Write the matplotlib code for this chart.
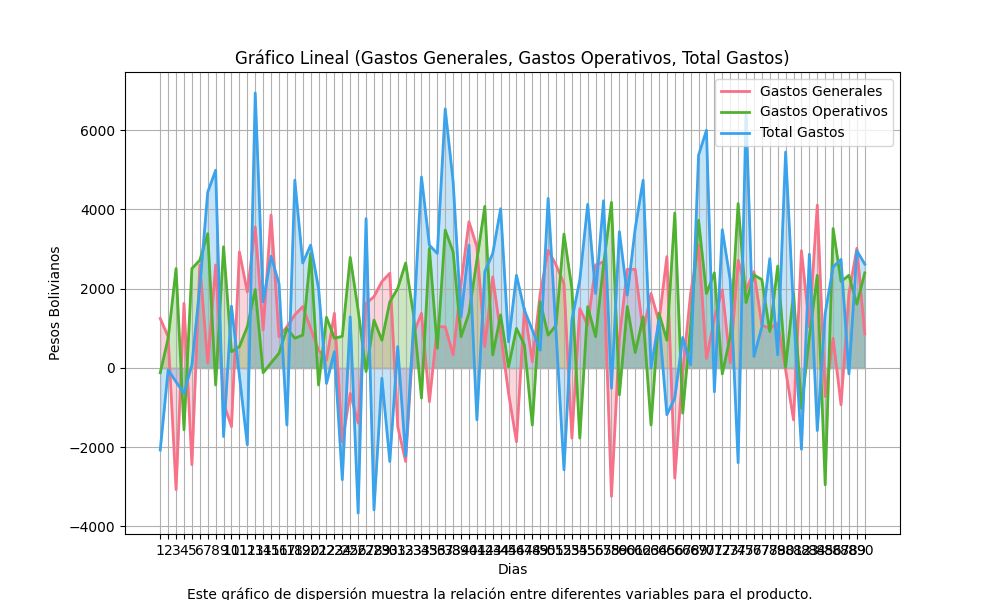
import matplotlib
matplotlib.use("Agg")
import matplotlib.pyplot as plt
import numpy as np

dias = list(range(1, 91))
gastos_generales = [1250, 790, -3070, 1630, -2440, 2600, 120, 2600, -890, -1480,
                    2930, 1920, 3560, 960, 3860, 790, 1040, 1340, 1550, 1000,
                    450, 200, 1380, -1860, -640, -1390, 1630, 1800, 2180, 2390,
                    -1480, -2360, 870, 1380, -850, 1040, 1040, 330, 2130, 3690,
                    3060, 540, 2300, 870, -640, -1860, 1500, 160, 1880, 2970,
                    2600, 2130, -1770, 1500, 1080, 2600, 2680, -3240, 750, 2490,
                    2490, 920, 1880, 1170, 2810, -2780, -90, 1880, 3100, 240,
                    1250, 1970, 130, 2720, 1970, 2430, 1080, 1000, 1130, -50,
                    -1310, 2960, 1040, 4110, -720, 750, -930, 1880, 3020, 860]
gastos_operativos = [-120, 750, 2510, -1560, 2510, 2720, 3390, -430, 3060, 410,
                     540, 1040, 1980, -120, 130, 370, 1000, 750, 830, 2890,
                     -430, 1280, 750, 800, 2790, 1460, -90, 1210, 700, 1670,
                     2010, 2650, 1340, -760, 3020, 500, 3480, 2930, 790, 1380,
                     2720, 4080, 330, 1340, 30, 1000, 580, -1440, 1670, 830,
                     1080, 3380, 2010, -1770, 1550, 790, 2600, 4180, -680, 1550,
                     390, 1290, -1440, 1380, 700, 3910, -1140, 1080, 3730, 1880,
                     2400, -150, 790, 4150, 1650, 2350, 2230, 920, 2570, 20,
                     1880, -1020, 790, 2340, -2950, 3520, 2180, 2340, 1610, 2400]
total_gastos = [-2070, -50, -350, -640, 80, 2050, 4440, 4990, -1730, 1560,
                -200, -1940, 6940, 1670, 2820, 2130, -1440, 4740, 2650, 3100,
                2010, -390, 410, -2820, 1290, -3660, 3770, -3580, -260, -2360,
                540, -2230, 1100, 4820, 3100, 2890, 6540, 4700, 1290, 3100,
                -1310, 2430, 2890, 4020, 660, 2340, 1460, 960, 450, 4280,
                900, -2570, 1210, 2220, 4130, 1880, 4220, -510, 3440, 1840,
                3520, 4740, 0, 1210, -1180, -760, 770, 80, 5370, 6000,
                -600, 3490, 2220, -2390, 6460, 290, 1040, 2760, 330, 5450,
                1460, -2050, 2870, -1580, 1380, 2550, 2740, -150, 2960, 2620]

series = [("Gastos Generales", gastos_generales, "#f77189"),
          ("Gastos Operativos", gastos_operativos, "#50b131"),
          ("Total Gastos", total_gastos, "#3ba3ec")]

fig, ax = plt.subplots(figsize=(10, 6), dpi=100)
for name, vals, c in series:
    ax.plot(dias, vals, color=c, linewidth=2, label=name)
    ax.fill_between(dias, vals, 0, color=c, alpha=0.3)

ax.set_xticks(dias)
ax.set_xticklabels([str(d) for d in dias])
ax.grid(True, color="#b0b0b0")
ax.set_title("Gráfico Lineal (Gastos Generales, Gastos Operativos, Total Gastos)")
ax.set_xlabel("Dias")
ax.set_ylabel("Pesos Bolivianos")
ax.legend(loc="upper right")
fig.text(0.5, 0.002, "Este gráfico de dispersión muestra la relación entre diferentes variables para el producto.",
         ha="center", fontsize=10)
fig.savefig("out.png")
